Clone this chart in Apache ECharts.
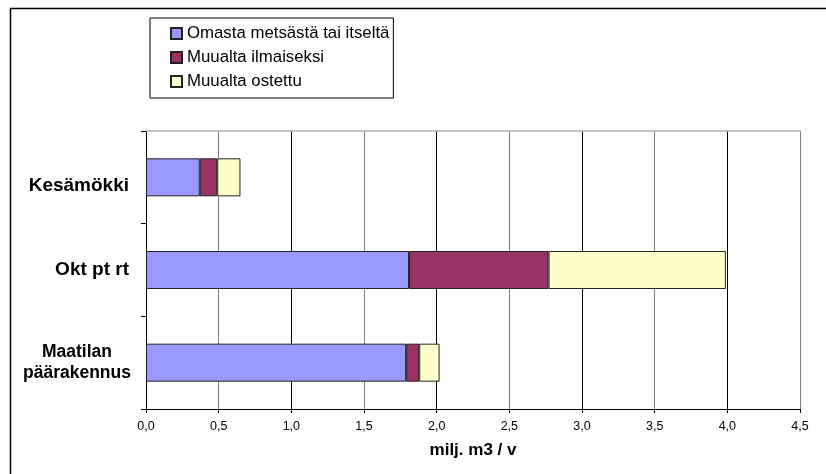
<!DOCTYPE html>
<html>
<head>
<meta charset="utf-8">
<script src="https://cdn.jsdelivr.net/npm/echarts@6/dist/echarts.min.js"></script>
<style>
html,body{margin:0;padding:0;background:#fff;}
#c{width:826px;height:474px;}
</style>
</head>
<body>
<div id="c"></div>
<script>
// Data (categories listed top to bottom)
var categories = ['Kesämökki', 'Okt pt rt', 'Maatilan päärakennus'];
var seriesNames = ['Omasta metsästä tai itseltä', 'Muualta ilmaiseksi', 'Muualta ostettu'];
var omasta = [0.37, 1.81, 1.79];
var ilmaiseksi = [0.12, 0.96, 0.09];
var ostettu = [0.16, 1.22, 0.14];
var xTicks = { min: 0, max: 4.5, interval: 0.5 };

var FONT = "'Liberation Sans', Arial, sans-serif";
var colors = ['#9999FF', '#993366', '#FFFFCC'];
var values = [omasta, ilmaiseksi, ostettu];

var chart = echarts.init(document.getElementById('c'), null, { renderer: 'canvas' });

var series = seriesNames.map(function (name, i) {
  return {
    name: name,
    type: 'bar',
    stack: 'total',
    barWidth: 38,
    data: values[i],
    itemStyle: { color: colors[i], borderColor: '#222', borderWidth: 1 },
    emphasis: { disabled: true },
    animation: false
  };
});

var option = {
  animation: false,
  backgroundColor: '#fff',
  textStyle: { fontFamily: FONT },
  graphic: [{
    type: 'rect',
    left: 8, top: 6,
    shape: { x: 0, y: 0, width: 900, height: 600 },
    style: { fill: 'none', stroke: '#000', lineWidth: 1.5 },
    silent: true
  }],
  legend: {
    orient: 'vertical',
    left: 150, top: 18,
    width: 242,
    padding: [7, 4, 8, 20],
    itemGap: 7,
    itemWidth: 11, itemHeight: 11,
    icon: 'rect',
    borderColor: '#000', borderWidth: 1,
    backgroundColor: '#fff',
    textStyle: { fontFamily: FONT, fontSize: 16.8, color: '#000' },
    data: seriesNames,
    selectedMode: false
  },
  grid: { left: 146, right: 26, top: 131, bottom: 65, containLabel: false },
  xAxis: [{
    type: 'value',
    min: xTicks.min, max: xTicks.max, interval: xTicks.interval,
    name: 'milj. m3 / v',
    nameLocation: 'middle',
    nameGap: 33,
    nameTextStyle: { fontFamily: FONT, fontSize: 17, fontWeight: 'bold', color: '#000' },
    axisLine: { show: true, lineStyle: { color: '#000', width: 1 } },
    axisTick: { show: true, length: 4, lineStyle: { color: '#000' } },
    axisLabel: {
      fontFamily: FONT, fontSize: 12.5, color: '#000', margin: 11,
      formatter: function (v) { return v.toFixed(1).replace('.', ','); }
    },
    splitLine: { show: true, lineStyle: { color: ['#000', '#808080'], width: 1 } }
  }, {
    type: 'value',
    position: 'top',
    min: xTicks.min, max: xTicks.max, interval: xTicks.interval,
    axisLine: { show: true, lineStyle: { color: '#b0b0b0', width: 1.5 } },
    axisTick: { show: false },
    axisLabel: { show: false },
    splitLine: { show: false }
  }],
  yAxis: {
    type: 'category',
    inverse: true,
    data: categories,
    axisLine: { show: true, lineStyle: { color: '#000', width: 1 } },
    axisTick: { show: true, length: 5, lineStyle: { color: '#000' } },
    axisLabel: {
      margin: 17,
      fontFamily: FONT, fontSize: 19, fontWeight: 'bold', color: '#000',
      formatter: function (v) {
        if (v === 'Kesämökki') return '{k|' + v + '}';
        if (v === 'Maatilan päärakennus') return '{m|Maatilan}\n{m|päärakennus}';
        return v;
      },
      rich: {
        k: { fontFamily: FONT, fontSize: 19, fontWeight: 'bold', color: '#000', padding: [16, 0, 0, 0] },
        m: { fontFamily: FONT, fontSize: 17.5, fontWeight: 'bold', color: '#000', width: 104, align: 'center', lineHeight: 21 }
      }
    },
    splitLine: { show: false }
  },
  series: series
};

chart.setOption(option);
</script>
</body>
</html>
